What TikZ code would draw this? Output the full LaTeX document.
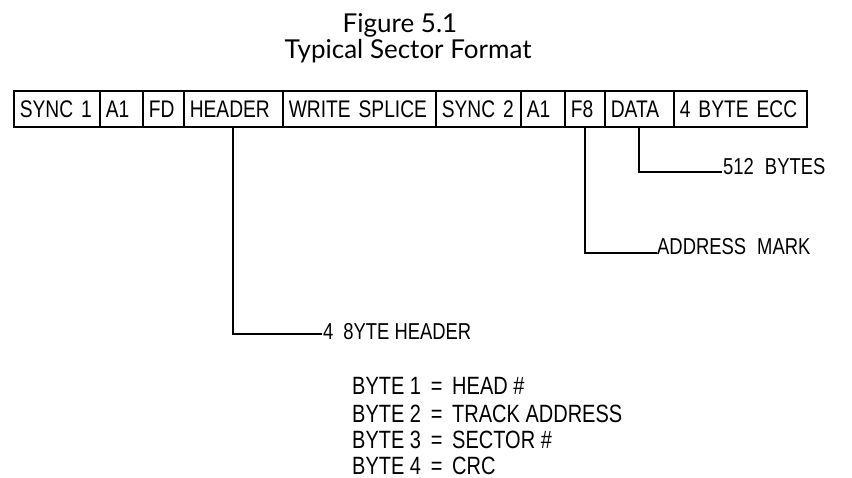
\documentclass[tikz,border=0pt]{standalone}
\usepackage{fontspec}
\setmainfont{Liberation Sans}[FakeStretch=0.8]
\newfontfamily\titlefont{Lato}
\begin{document}
\begin{tikzpicture}[x=1pt,y=-1pt,
  cell/.style={draw,line width=1.6pt,anchor=north west,minimum height=36pt,
    inner xsep=6pt,inner ysep=0pt,align=left,font=\fontsize{24}{28}\selectfont},
  conn/.style={line width=1.8pt},
  lab/.style={anchor=base west,inner sep=0pt,font=\fontsize{23}{27}\selectfont},
  bytel/.style={anchor=base west,inner sep=0pt,font=\fontsize{25}{29}\selectfont},
  ttl/.style={anchor=base,inner sep=0pt,font=\titlefont\fontsize{26}{30}\selectfont}]
\useasboundingbox (0,0) rectangle (852,478);
% title
\node[ttl] (t1) at (400,33) {Figure 5.1};
\node[ttl] (t2) at (408,59) {Typical Sector Format};
% sector boxes
\node[cell,text width=74pt]  (sync1) at (13,90)  {SYNC 1};
\node[cell,text width=31pt]  (a1)    at (99,90)  {A1};
\node[cell,text width=29pt]  (fd)    at (142,90) {FD};
\node[cell,text width=87pt]  (hdr)   at (183,90) {HEADER};
\node[cell,text width=141pt] (ws)    at (282,90) {WRITE SPLICE};
\node[cell,text width=73pt]  (sync2) at (435,90) {SYNC 2};
\node[cell,text width=32pt]  (a1b)   at (520,90) {A1};
\node[cell,text width=28pt]  (f8)    at (564,90) {F8};
\node[cell,text width=57pt]  (data)  at (604,90) {DATA};
\node[cell,text width=121pt] (ecc)   at (673,90) {4 BYTE ECC};
% labels
\node[lab] (hlab) at (323,340) {4\hspace{10pt}8YTE HEADER};
\node[lab] (amlab) at (657,255) {ADDRESS\hspace{6pt} MARK};
\node[lab] (dlab) at (723,175) {512\hspace{6pt} BYTES};
\coordinate (hend) at (322,334);
\coordinate (amend) at (657,253);
\coordinate (dend) at (722,172);
% connectors
\draw[conn] (hdr.south) |- (hend);
\draw[conn] (f8.south) |- (amend);
\draw[conn] (data.south) |- (dend);
% byte list
\node[bytel] (b1) at (352,395) {BYTE 1 \,=\, HEAD \#};
\node[bytel] (b2) at (352,422) {BYTE 2 \,=\, TRACK ADDRESS};
\node[bytel] (b3) at (352,448) {BYTE 3 \,=\, SECTOR \#};
\node[bytel] (b4) at (352,474) {BYTE 4 \,=\, CRC};
\end{tikzpicture}
\end{document}
